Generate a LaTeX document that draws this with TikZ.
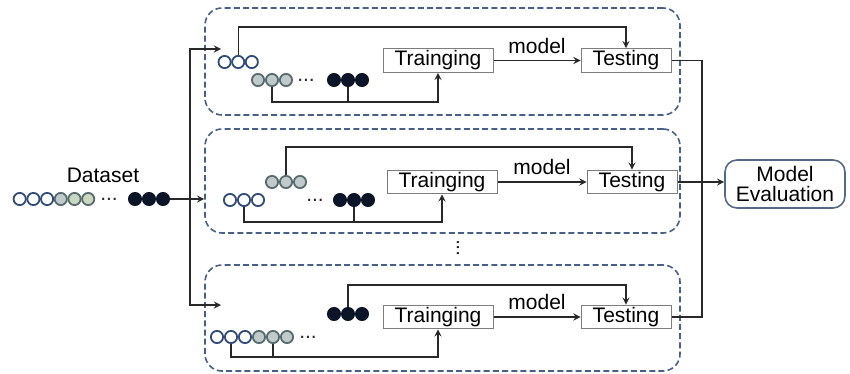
\documentclass[tikz,border=0pt]{standalone}
\usepackage{fontspec}
\setmainfont{Liberation Sans}
\definecolor{foldblue}{RGB}{72,96,136}
\definecolor{ringblue}{RGB}{50,76,122}
\definecolor{greyfill}{RGB}{192,202,202}
\definecolor{greyring}{RGB}{88,108,112}
\definecolor{leaffill}{RGB}{202,216,192}
\definecolor{inkdot}{RGB}{12,20,40}
\definecolor{evalblue}{RGB}{86,106,136}
\definecolor{boxgrey}{RGB}{125,125,125}
\definecolor{wire}{RGB}{40,40,40}
\begin{document}
\begin{tikzpicture}
[x=0.5pt, y=-0.5pt, >=stealth, font=\fontsize{10.5}{12}\selectfont,
 dot/.style = {circle, inner sep = 0pt, minimum size = 6.1pt, line width = 0.9pt},
 hollowdot/.style = {dot, draw = ringblue, fill = white},
 greydot/.style = {dot, draw = greyring, fill = greyfill},
 leafdot/.style = {dot, draw = greyring, fill = leaffill},
 blackdot/.style = {dot, draw = inkdot, fill = inkdot},
 etc/.style = {inner sep = 0pt, text = wire},
 fold/.style = {draw = foldblue, dashed, dash pattern = on 3pt off 1.6pt, line width = 0.8pt,
                rounded corners = 8.5pt, minimum width = 237.5pt},
 stage/.style = {draw = boxgrey, line width = 0.5pt, inner xsep = 0pt, inner ysep = 1pt,
                 text height = 7.6pt, text depth = 2.2pt},
 link/.style = {draw = wire, line width = 0.6pt},]

\useasboundingbox (0,0) rectangle (850,374);

% dataset
\node (data) at (103,175) {Dataset};
\foreach \i/\s in {1/hollowdot,2/hollowdot,3/hollowdot,4/greydot,5/leafdot,6/leafdot}
  \node[\s] (d\i) at ({6+13.7*\i},199) {};
\node[etc] (ddots) at (109,199) {...};
\foreach \i in {1,2,3}
  \node[blackdot] (dk\i) at ({121+14*\i},199) {};

% folds
\node[fold, minimum height = 53.5pt] (foldA) at (442.5,61.5) {};
\node[fold, minimum height = 52pt] (foldB) at (442.5,181) {};
\node[fold, minimum height = 53pt] (foldC) at (442.5,318) {};
\node[etc, rotate = 90] (vdots) at (458,248) {...};

% fold 1
\foreach \i in {1,2,3} \node[hollowdot] (oa\i) at ({211+13.6*\i},62) {};
\foreach \i in {1,2,3} \node[greydot] (ga\i) at ({244+14*\i},80) {};
\node[etc] (adots) at (306,80) {...};
\foreach \i in {1,2,3} \node[blackdot] (ka\i) at ({320+14*\i},80) {};
\node[stage, minimum width = 55pt] (trainA) at (438,60.5) {Trainging};
\node[stage, minimum width = 45pt] (testA) at (626,60.5) {Testing};
\coordinate (topA) at (0,27);
\coordinate (lowA) at (0,102);

% fold 2
\foreach \i in {1,2,3} \node[greydot] (gb\i) at ({258+14*\i},182) {};
\foreach \i in {1,2,3} \node[hollowdot] (ob\i) at ({216+14*\i},200) {};
\node[etc] (bdots) at (315,200) {...};
\foreach \i in {1,2,3} \node[blackdot] (kb\i) at ({326+14*\i},200) {};
\node[stage, minimum width = 55pt] (trainB) at (442,182) {Trainging};
\node[stage, minimum width = 45pt] (testB) at (632,182) {Testing};
\coordinate (topB) at (0,147);
\coordinate (lowB) at (0,222);

% fold k
\foreach \i in {1,2,3} \node[blackdot] (kc\i) at ({320+14*\i},314) {};
\foreach \i/\s in {1/hollowdot,2/hollowdot,3/hollowdot,4/greydot,5/greydot,6/greydot}
  \node[\s] (oc\i) at ({203+14*\i},337) {};
\node[etc] (cdots) at (308,337) {...};
\node[stage, minimum width = 55pt] (trainC) at (438,317) {Trainging};
\node[stage, minimum width = 45pt] (testC) at (626,317) {Testing};
\coordinate (topC) at (0,285);
\coordinate (lowC) at (0,357);

\node[draw = evalblue, line width = 0.8pt, rounded corners = 6pt, align = center,
      minimum width = 60pt, minimum height = 24pt, inner sep = 1pt] (eval) at (785,184)
      {Model\\[-2pt]Evaluation};

% split to the folds
\coordinate (split) at (190,199);
\coordinate (inA) at (221,49);
\coordinate (inC) at (221,305);
\draw[link, ->] (dk3.east) -- (dk3.east -| foldB.west);
\draw[link, ->] (split) |- (inA);
\draw[link, ->] (split) |- (inC);

% wiring inside fold 1
\draw[link, ->] (oa2.north) |- (topA -| testA.north) -- (testA.north);
\draw[link, ->] (ga2.south) |- (lowA -| trainA.south) -- (trainA.south);
\draw[link] (ka2.south) -- (ka2.south |- lowA);
\draw[link, ->] (trainA.east) -- node[above] {model} (testA.west);

% wiring inside fold 2
\draw[link, ->] (gb2.north) |- (topB -| testB.north) -- (testB.north);
\draw[link, ->] (ob2.south) |- (lowB -| trainB.south) -- (trainB.south);
\draw[link] (kb2.south) -- (kb2.south |- lowB);
\draw[link, ->] (trainB.east) -- node[above] {model} (testB.west);

% wiring inside fold k
\draw[link, ->] (kc2.north) |- (topC -| testC.north) -- (testC.north);
\draw[link, ->] (oc2.south) |- (lowC -| trainC.south) -- (trainC.south);
\draw[link] (oc5.south) -- (oc5.south |- lowC);
\draw[link, ->] (trainC.east) -- node[above] {model} (testC.west);

% merge to evaluation
\coordinate (merge) at (702,184);
\draw[link] (testA.east) -| (merge) |- (testC.east);
\draw[link, ->] (testB.east) -- (testB.east -| eval.west);
\end{tikzpicture}
\end{document}
